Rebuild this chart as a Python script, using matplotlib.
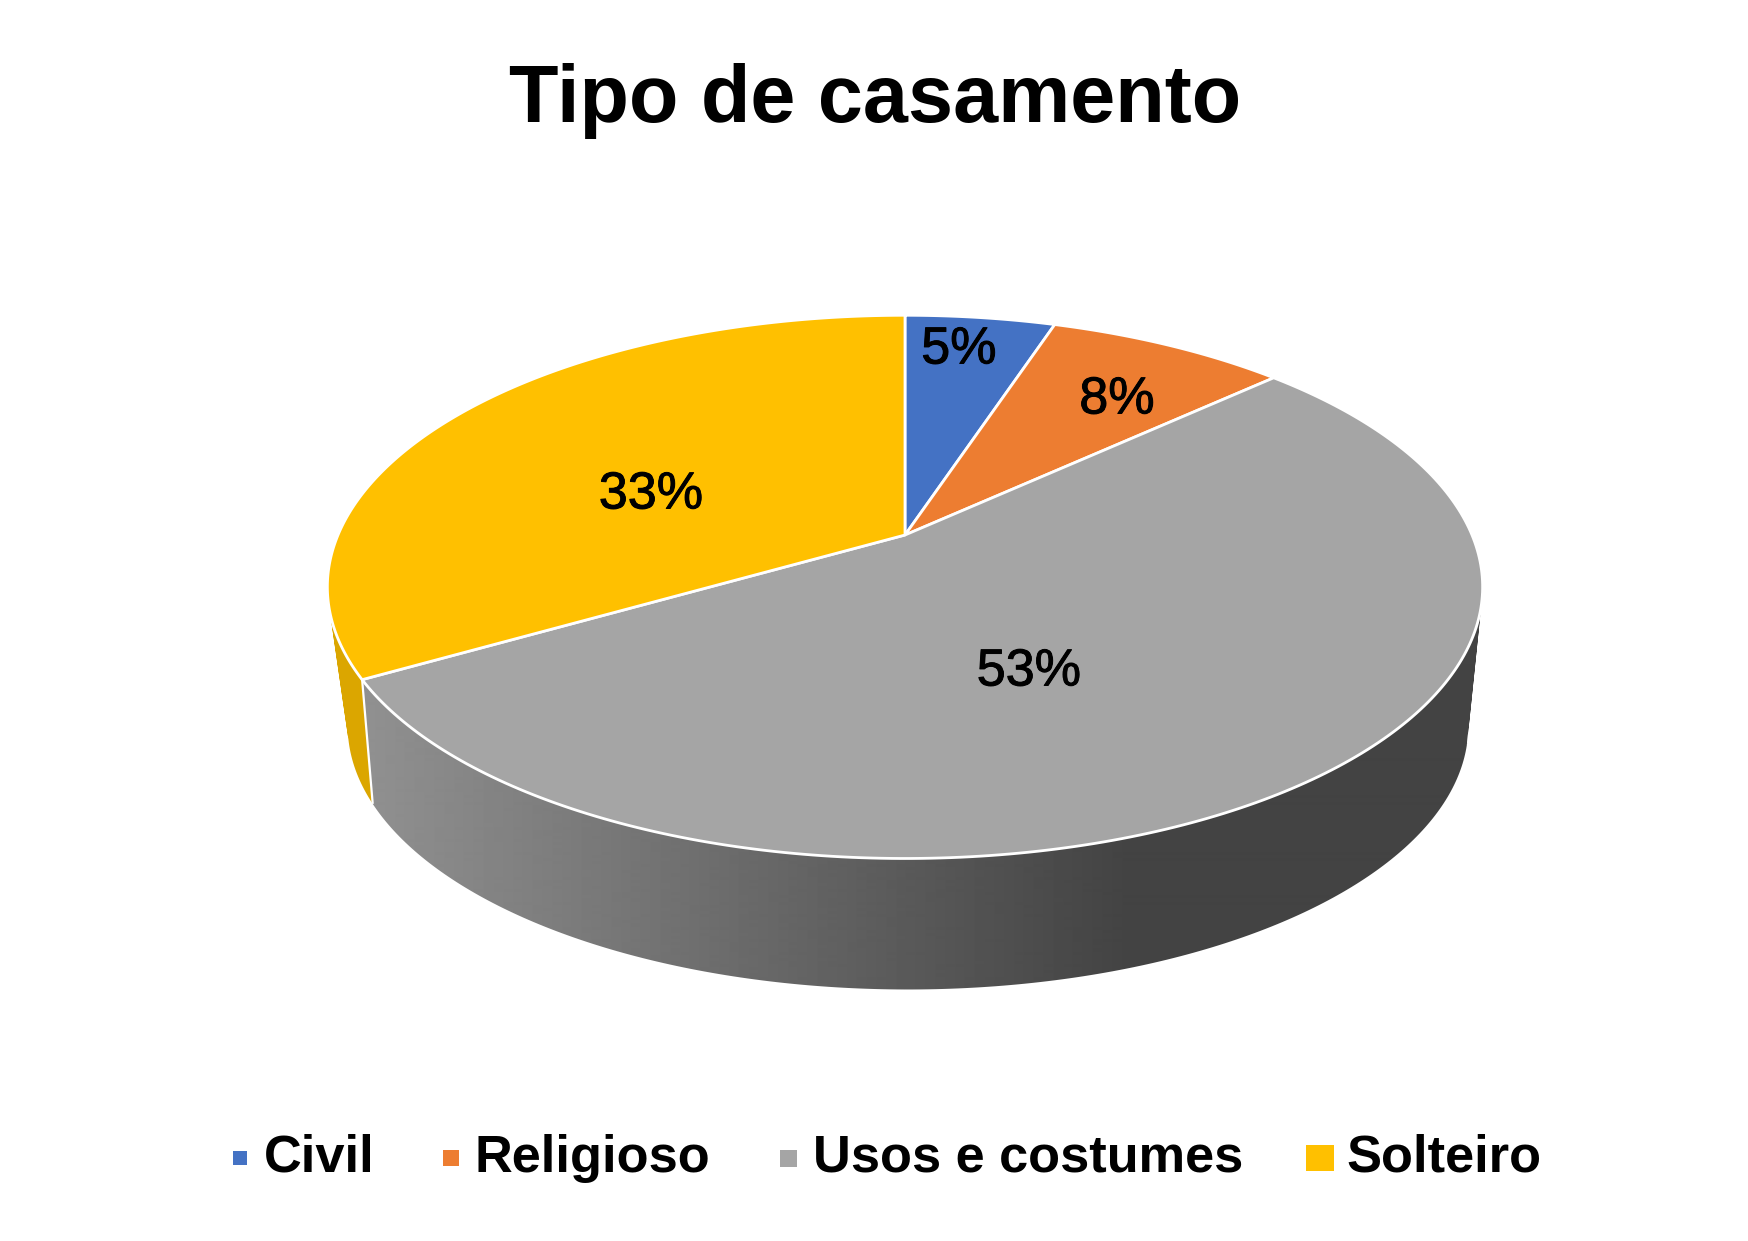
import numpy as np
import matplotlib
matplotlib.use("Agg")
import matplotlib.pyplot as plt
import matplotlib.patheffects as pe
from matplotlib.path import Path
from matplotlib.patches import Polygon, Rectangle, PathPatch

title = "Tipo de casamento"
categories = ["Civil", "Religioso", "Usos e costumes", "Solteiro"]
values = [5, 8, 53, 33]
labels = ["5%", "8%", "53%", "33%"]
colors = ["#4472C4", "#ED7D31", "#A5A5A5", "#FFC000"]

plt.rcParams["font.family"] = ["Liberation Sans", "DejaVu Sans"]
W, H = 1749, 1241
fig = plt.figure(figsize=(W / 100, H / 100), dpi=100, facecolor="white")
ax = fig.add_axes([0, 0, 1, 1])
ax.axis("off")

# perspective layout of the disc
APEX = (905.0, 535.0)
K = 0.191
A_Y = 261.7
B_X = 567.0
SCALE_BX = 0.97
SCALE_BY = 0.97
APEX_B = (908.0, 675.7)
TWIST = 0.045


def project(theta, bottom=False):
    if bottom:
        theta = theta + TWIST
    u, v = np.sin(theta), np.cos(theta)
    d = 1 + K * v
    x, y = B_X * u / d, -A_Y * v / d
    if bottom:
        return APEX_B[0] + SCALE_BX * x, APEX_B[1] + SCALE_BY * y
    return APEX[0] + x, APEX[1] + y


fr = np.asarray(values, float) / np.sum(values)
edges = np.concatenate([[0], np.cumsum(fr)]) * 2 * np.pi


def side_path(t0, t1, n):
    ts = np.linspace(t0, t1, n + 1)
    xt, yt = project(ts)
    xb, yb = project(ts, bottom=True)
    verts, codes = [], []
    for i in range(n):
        q = np.array([(xt[i], yt[i]), (xt[i + 1], yt[i + 1]), (xb[i + 1], yb[i + 1]), (xb[i], yb[i])])
        area = np.sum(q[:, 0] * np.roll(q[:, 1], -1) - np.roll(q[:, 0], -1) * q[:, 1])
        if area < 0:
            q = q[::-1]
        verts += list(q) + [q[0]]
        codes += [Path.MOVETO, Path.LINETO, Path.LINETO, Path.LINETO, Path.CLOSEPOLY]
    return Path(np.array(verts), codes)


# yellow side, behind the grey one
ax.add_patch(PathPatch(side_path(edges[3], edges[3] + 1.0, 80), facecolor="#DBA600", edgecolor="none", zorder=1))

# grey side with its horizontal shading
grad_x = np.linspace(300, 1500, 1200)
grad = np.clip(0x90 - (grad_x - 370) / (1130 - 370) * (0x90 - 0x43), 0x43, 0x90) / 255
im = ax.imshow(grad[None, :], extent=(300, 1500, 1100, 300), cmap="gray", vmin=0, vmax=1,
               aspect="auto", interpolation="bilinear", zorder=2)
clip = PathPatch(side_path(edges[2], edges[3], 300), transform=ax.transData, facecolor="none", edgecolor="none")
ax.add_patch(clip)
im.set_clip_path(clip)

ax.set_xlim(0, W)
ax.set_ylim(H, 0)

# seam
xa, ya = project(edges[3])
xb, yb = project(edges[3], bottom=True)
ax.plot([xa, xb], [ya, yb], color="white", lw=1.6, zorder=3, solid_capstyle="butt")

# top face
for i, c in enumerate(colors):
    ts = np.linspace(edges[i], edges[i + 1], 240)
    x, y = project(ts)
    pts = np.vstack([[APEX], np.c_[x, y]])
    ax.add_patch(Polygon(pts, closed=True, facecolor=c, edgecolor="white", lw=2.0, joinstyle="round", zorder=4))

# data labels
label_xy = [(959, 350), (1117, 400), (1029, 672), (651, 495)]
for (lx, ly), t in zip(label_xy, labels):
    ax.text(lx, ly, t, fontsize=37.5, color="black", ha="center", va="center", zorder=5,
            path_effects=[pe.withStroke(linewidth=0.7, foreground="black")])

ax.text(875, 101, title, fontsize=58.3, fontweight="bold", color="black", ha="center", va="center")

# legend
key_x = [(233, 247), (443, 459), (780, 797), (1306, 1334)]
text_x = [264, 475, 813, 1346]
for (x0, x1), tx, c, name in zip(key_x, text_x, colors, categories):
    w = x1 - x0
    h = min(w, 26)
    ax.add_patch(Rectangle((x0, 1158 - h / 2), w, h, facecolor=c, edgecolor="none"))
    ax.text(tx, 1172, name, fontsize=37.7, fontweight="bold", color="black", ha="left", va="baseline")

fig.savefig("out.png", dpi=100, facecolor="white")
